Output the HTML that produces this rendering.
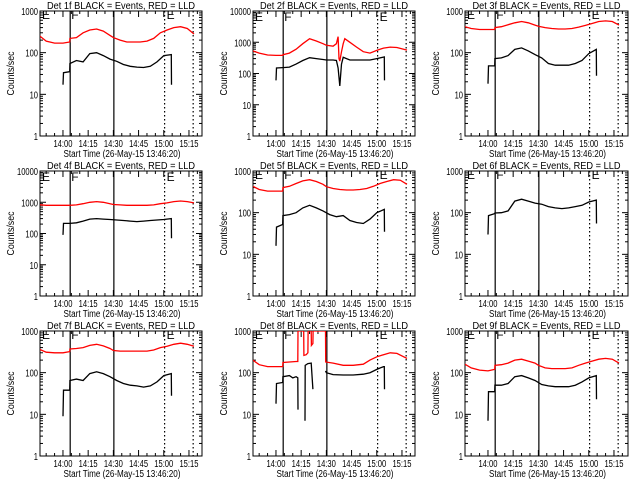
<!DOCTYPE html>
<html><head><meta charset="utf-8"><style>
html,body{margin:0;padding:0;background:#fff;}
svg{display:block;}
text{font-family:"Liberation Sans",sans-serif;fill:#000;}
</style></head><body>
<svg id="chart" width="640" height="480" viewBox="0 0 640 480" xmlns="http://www.w3.org/2000/svg"></svg>
<script>
const panelTitles = ["Det 1f BLACK = Events, RED = LLD","Det 2f BLACK = Events, RED = LLD","Det 3f BLACK = Events, RED = LLD","Det 4f BLACK = Events, RED = LLD","Det 5f BLACK = Events, RED = LLD","Det 6f BLACK = Events, RED = LLD","Det 7f BLACK = Events, RED = LLD","Det 8f BLACK = Events, RED = LLD","Det 9f BLACK = Events, RED = LLD"];
const panelDecades = [3,4,3,4,3,3,3,3,3];
const xTickLabels = ["14:00","14:15","14:30","14:45","15:00","15:15"];
const xTickMinutes = [0,15,30,45,60,75];
const solidLineMinutes = [4.3,30.3];
const dottedLineMinutes = [60.5,77.5];
const stdRedT = [-13.7,-10,-5,0,4,4.1,8,12,16,20,24,28,30,34,38,42,46,50,54,58,62,66,70,74,78];
const stdBlkT = [0,0.3,4,4.1,8,12,16,20,24,28,32,36,40,44,48,52,56,60,64.5,64.6];
const p2RedT = [-13.7,-10,-5,0,4,4.1,8,12,16,20,24,28,30,34,36,37,37.5,38,39,40,41,44,48,52,56,60,64,68,72,78];
const p2BlkT = [0,0.3,4,4.1,8,12,16,20,24,28,30,34,36,37,38,39,40,42,44,50,56,60,64.5,64.6];
const p8RedT = [-13.7,-10,-5,0,4,4.1,8,12,13,13.1,16.5,16.6,18,19,19.1,21,21.1,22,22.1,29.5,29.6,34,40,46,52,56,60,64,68,72,78];
const p8BlkT = [0,0.3,4,4.1,8,10,12,13,13.1,null,17.3,17.4,19,21,22,null,29.5,30,34,40,46,52,56,60,64,64.5,64.6];
const redTimes = [stdRedT,p2RedT,stdRedT,stdRedT,stdRedT,[],stdRedT,p8RedT,stdRedT];
const blackTimes = [stdBlkT,p2BlkT,stdBlkT,stdBlkT,stdBlkT,stdBlkT,stdBlkT,p8BlkT,stdBlkT];
const redValues = [
 [250,190,170,170,180,220,230,300,350,370,330,260,230,200,180,180,180,190,220,300,350,400,420,380,280],
 [530,450,390,380,380,400,450,600,900,1300,1100,900,800,750,900,1500,300,250,500,900,1300,1000,700,500,450,550,650,700,680,560],
 [420,380,360,360,360,400,420,470,520,560,520,460,430,400,380,370,370,380,410,450,500,560,580,560,460],
 [830,800,800,800,800,800,820,900,1000,1050,1000,900,850,820,800,800,800,800,820,900,950,1050,1100,1050,950],
 [430,360,330,330,330,400,430,500,580,620,560,480,420,380,360,350,350,360,380,430,500,560,620,600,480],
 [],
 [360,310,300,300,320,370,380,400,450,480,440,380,340,330,330,330,330,330,350,400,430,480,510,480,430],
 [200,155,140,140,140,175,180,185,185,1000,1000,260,270,300,1000,1000,450,500,1000,1000,180,170,150,150,160,200,240,270,300,290,220],
 [160,130,115,110,120,150,155,170,200,210,190,170,150,130,125,125,125,130,150,170,190,210,220,210,170]
];
const blackValues = [
 [17,33,35,55,65,60,95,100,85,70,62,52,47,45,44,47,60,85,90,17],
 [60,150,155,155,160,200,260,320,300,280,270,270,260,150,40,200,330,300,270,270,270,300,340,60],
 [18,48,48,72,75,85,120,130,110,90,75,55,50,50,50,55,65,95,120,28],
 [90,210,210,210,220,250,290,300,290,280,270,260,250,240,250,260,270,280,300,70],
 [16,45,52,85,90,100,130,150,130,110,90,80,85,65,58,55,70,100,120,35],
 [30,85,95,98,100,110,190,210,190,170,160,140,130,125,130,140,150,180,200,55],
 [9,38,38,65,70,65,95,105,95,80,65,55,50,48,45,48,60,85,95,28],
 [18,55,58,80,85,75,80,75,13,null,7,150,165,170,40,null,110,100,90,88,88,92,100,120,140,140,40],
 [7,35,35,50,50,55,80,85,75,65,52,48,46,46,46,50,60,75,85,23]
];

const svg = document.getElementById('chart');
const NS = 'http://www.w3.org/2000/svg';
const colLeft = [40,253,465], colRight = [202,415,628], rowTop = [11,171,331];
const PX_PER_MIN = 1.68, START_OFF = 13.67;
function mk(tag, attrs, parent){const e=document.createElementNS(NS,tag);for(const k in attrs)e.setAttribute(k,attrs[k]);(parent||svg).appendChild(e);return e;}

for (let p=0;p<9;p++){
  const L=colLeft[p%3], R=colRight[p%3], T=rowTop[Math.floor(p/3)], B=T+125;
  const dec=panelDecades[p];
  const xs = t => L + (t+START_OFF)*PX_PER_MIN;
  const ys = v => B - Math.log10(Math.max(v,0.5))/dec*(B-T);
  const g = mk('g',{});
  
  
  const clipId='clip'+p;
  const cp=mk('clipPath',{id:clipId},g); mk('rect',{x:L,y:T,width:R-L,height:B-T},cp);

  const title=mk('text',{x:(L+R)/2,y:T-2,'text-anchor':'middle','font-size':'10',textLength:'148',lengthAdjust:'spacingAndGlyphs'},g);
  title.textContent=panelTitles[p];
  
  

  const box=mk('rect',{x:L,y:T,width:R-L,height:B-T,fill:'none',stroke:'#000','stroke-width':'1'},g);
  
  

  for(let d=0; d<=dec; d++){
    const y=ys(Math.pow(10,d));
    mk('line',{x1:L,x2:L+6,y1:y,y2:y,stroke:'#000'},g);
    mk('line',{x1:R-6,x2:R,y1:y,y2:y,stroke:'#000'},g);
    const s=String(Math.pow(10,d));
    const lb=mk('text',{x:L-2,y:y+4,'text-anchor':'end','font-size':'10',textLength:String(s.length*4.2),lengthAdjust:'spacingAndGlyphs'},g);
    lb.textContent=s;
    
    
    if(d<dec) for(let m=2;m<10;m++){
      const ym=ys(m*Math.pow(10,d));
      mk('line',{x1:L,x2:L+3,y1:ym,y2:ym,stroke:'#000'},g);
      mk('line',{x1:R-3,x2:R,y1:ym,y2:ym,stroke:'#000'},g);
    }
  }
  for(let i=0;i<xTickMinutes.length;i++){
    const x=xs(xTickMinutes[i]);
    mk('line',{x1:x,x2:x,y1:B,y2:B-6,stroke:'#000'},g);
    mk('line',{x1:x,x2:x,y1:T,y2:T+6,stroke:'#000'},g);
    const lb=mk('text',{x:x,y:B+11,'text-anchor':'middle','font-size':'10',textLength:'19',lengthAdjust:'spacingAndGlyphs'},g);
    lb.textContent=xTickLabels[i];
    
    
  }
  for(let t=-10;t<=80;t+=5){ if(t%15===0) continue;
    const x=xs(t); mk('line',{x1:x,x2:x,y1:B,y2:B-3,stroke:'#000'},g); mk('line',{x1:x,x2:x,y1:T,y2:T+3,stroke:'#000'},g);}
  const xt=mk('text',{x:(L+R)/2+1,y:B+21,'text-anchor':'middle','font-size':'10',textLength:'117',lengthAdjust:'spacingAndGlyphs'},g);
  xt.textContent='Start Time (26-May-15 13:46:20)';
  
  
  const yx=L-26, yc=(T+B)/2;
  const yt=mk('text',{x:yx,y:yc,'text-anchor':'middle','font-size':'10',textLength:'44',lengthAdjust:'spacingAndGlyphs',transform:`rotate(-90 ${yx} ${yc})`},g);
  yt.textContent='Counts/sec';
  
  

  solidLineMinutes.forEach(t=>{const x=xs(t);const l=mk('line',{x1:x,x2:x,y1:T,y2:B,stroke:'#000','stroke-width':'1.2'},g);
    
    });
  dottedLineMinutes.forEach(t=>{const x=xs(t);const l=mk('line',{x1:x,x2:x,y1:T,y2:B,stroke:'#000','stroke-dasharray':'1.5,2.5','stroke-width':'1.2'},g);
    
    });
  [['E',L+2],['F',xs(solidLineMinutes[0])+1],['E',xs(dottedLineMinutes[0])+2]].forEach(([c,x])=>{
    const tx=mk('text',{x:x,y:T+(dec===4?10:8),'font-size':'12'},g); tx.textContent=c;
    
    });

  function series(times, vals, color, name){
    let d='', pen=false;
    for(let i=0;i<times.length;i++){
      if(times[i]===null||vals[i]===null){pen=false;continue;}
      d+=(pen?'L':'M')+xs(times[i]).toFixed(1)+' '+ys(vals[i]).toFixed(1)+' '; pen=true;
    }
    if(!d) return;
    const pth=mk('path',{d:d,fill:'none',stroke:color,'stroke-width':'1.3','clip-path':`url(#${clipId})`},g);
    
    
  }
  series(redTimes[p], redValues[p], '#ff0000', 'lld-series-red');
  series(blackTimes[p], blackValues[p], '#000000', 'events-series-black');
}
</script>
</body></html>
